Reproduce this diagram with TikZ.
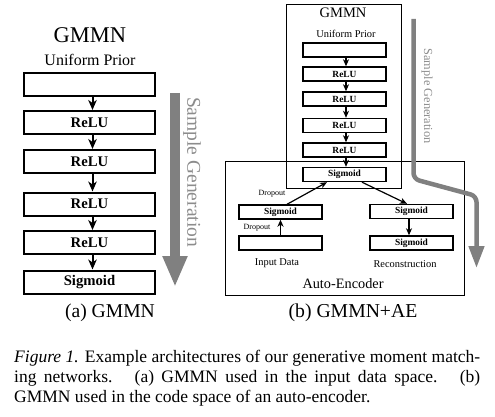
\documentclass[tikz,border=0pt]{standalone}
\usepackage{fontspec}
\setmainfont{Liberation Serif}
\usetikzlibrary{arrows.meta}
\definecolor{sgray}{RGB}{128,128,128}
\definecolor{sgtext}{RGB}{140,140,140}
\newcommand{\fs}[1]{\fontsize{#1}{#1}\selectfont}
\tikzset{
  bigbox/.style={draw=black, line width=2pt, minimum width=131pt, minimum height=23pt, inner sep=0pt, font=\fs{14.7}\bfseries},
  smallbox/.style={draw=black, line width=1.4pt, minimum width=83pt, minimum height=14pt, inner sep=0pt, font=\fs{9.4}\bfseries},
  bigarrow/.style={line width=2pt, -{Stealth[length=10pt,width=8.5pt,inset=3pt]}},
  smallarrow/.style={line width=1.2pt, -{Stealth[length=7pt,width=6pt,inset=2pt]}},
  txt/.style={inner sep=0pt},
  frame/.style={draw=black, line width=0.8pt}
}
\begin{document}
\begin{tikzpicture}[x=1pt,y=-1pt]
\useasboundingbox (0,0) rectangle (495,417);
% ---------- (a) GMMN ----------
\node[txt, font=\fs{22.5}] (tA) at (90,35) {GMMN};
\node[txt, font=\fs{16}] (upA) at (90,60) {Uniform Prior};
\node[bigbox] (a0) at (89.5,84.5) {};
\node[bigbox] (a1) at (89.5,122.5) {ReLU};
\node[bigbox] (a2) at (89.5,161.5) {ReLU};
\node[bigbox] (a3) at (89.5,204) {ReLU};
\node[bigbox] (a4) at (89.5,242.5) {ReLU};
\node[bigbox] (a5) at (89.5,282) {Sigmoid};
\foreach \i/\j in {a0/a1,a1/a2,a2/a3,a3/a4,a4/a5}
  \draw[bigarrow] ([xshift=3pt]\i.south) -- ([xshift=3pt]\j.north);
\coordinate (gA1) at (175,93);
\coordinate (gA2) at (175,287);
\draw[sgray, line width=10pt, -{Triangle[length=31pt,width=23pt]}] (gA1) -- (gA2);
\node[txt, font=\fs{19.5}, text=sgtext, rotate=-90] (sgA) at (192,172) {Sample Generation};
\node[txt, font=\fs{19.6}] (capA) at (110,313) {(a) GMMN};
% ---------- (b) GMMN+AE ----------
\draw[frame] (286,4) rectangle (401,188);
\draw[frame] (225,161) rectangle (464,295);
\node[txt, font=\fs{14.5}] (tB) at (343,13) {GMMN};
\node[txt, font=\fs{10.4}] (upB) at (346,34) {Uniform Prior};
\node[smallbox] (b0) at (344.5,50) {};
\node[smallbox] (b1) at (344.5,74) {ReLU};
\node[smallbox] (b2) at (344.5,99) {ReLU};
\node[smallbox] (b3) at (344.5,125.5) {ReLU};
\node[smallbox] (b4) at (344.5,150) {ReLU};
\node[smallbox] (b5) at (344.5,174.5) {Sigmoid};
\foreach \i/\j in {b0/b1,b1/b2,b2/b3,b3/b4,b4/b5}
  \draw[smallarrow] ([xshift=1.5pt]\i.south) -- ([xshift=1.5pt]\j.north);
\node[smallbox] (enc) at (280.5,212) {Sigmoid};
\node[smallbox] (inp) at (280.5,243) {};
\node[smallbox] (dec) at (411.5,211.5) {Sigmoid};
\node[smallbox] (rec) at (411.5,243) {Sigmoid};
\draw[smallarrow] (inp.north) -- (enc.south);
\draw[smallarrow] ([xshift=6.5pt]enc.north) -- ([xshift=-17.5pt]b5.south);
\draw[smallarrow] ([xshift=17.5pt]b5.south) -- ([xshift=-4.5pt]dec.north);
\draw[smallarrow] ([xshift=-2.5pt]dec.south) -- ([xshift=-2.5pt]rec.north);
\node[txt, font=\fs{8}] (do1) at (272,194) {Dropout};
\node[txt, font=\fs{8}] (do2) at (257,228) {Dropout};
\node[txt, font=\fs{10.4}] (inl) at (277,263) {Input Data};
\node[txt, font=\fs{10.4}] (rcl) at (405,264) {Reconstruction};
\node[txt, font=\fs{14.3}] (ael) at (343,284) {Auto-Encoder};
\node[txt, font=\fs{12.3}, text=sgtext, rotate=-90] (sgB) at (427,96) {Sample Generation};
\coordinate (gB1) at (413.5,19);
\coordinate (gB2) at (413.5,179);
\coordinate (gB3) at (476.5,196);
\coordinate (gB4) at (476.5,268);
\draw[sgray, line width=4.5pt, rounded corners=6pt, -{Triangle[length=22pt,width=15pt]}] (gB1) -- (gB2) -- (gB3) -- (gB4);
\node[txt, font=\fs{19.7}] (capB) at (353,313) {(b) GMMN+AE};
% ---------- caption ----------
\node[txt, anchor=base west, font=\fontsize{17.5}{20.5}\selectfont] (c1) at (14,362.7) {\makebox[466pt][s]{\textit{Figure 1.} Example architectures of our generative moment match-}};
\node[txt, anchor=base west, font=\fontsize{17.5}{20.5}\selectfont] (c2) at (14,382.7) {\makebox[466pt][s]{ing networks. \ (a) GMMN used in the input data space. \ (b)}};
\node[txt, anchor=base west, font=\fontsize{17.5}{20.5}\selectfont] (c3) at (14,402.7) {GMMN used in the code space of an auto-encoder.};
\end{tikzpicture}
\end{document}
